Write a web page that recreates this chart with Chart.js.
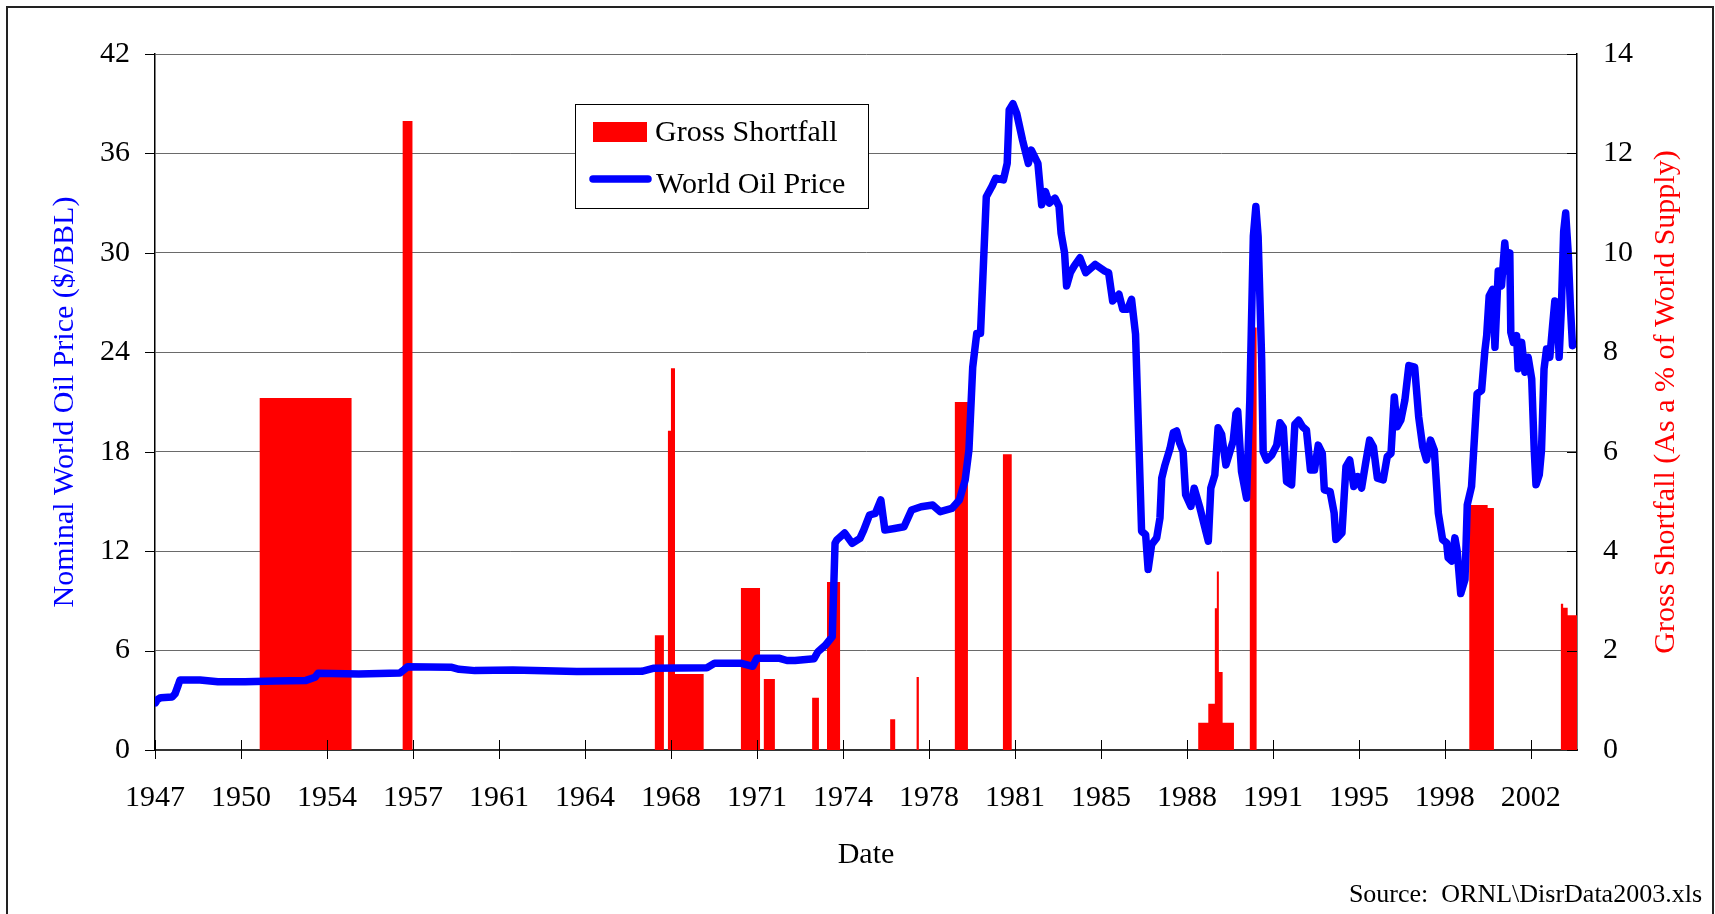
<!DOCTYPE html>
<html>
<head>
<meta charset="utf-8">
<title>World Oil Price and Gross Shortfall</title>
<script src="https://cdn.jsdelivr.net/npm/chart.js@4.4.1/dist/chart.umd.min.js"></script>
<style>
  html, body { margin: 0; padding: 0; background: #ffffff; }
  canvas { display: block; }
</style>
</head>
<body>
<canvas id="chart" width="1715" height="914"></canvas>
<script>
// Date axis labels, one every 41 months starting mid-1947
const xTickLabels = ['1947', '1950', '1954', '1957', '1961', '1964', '1968', '1971', '1974',
                     '1978', '1981', '1985', '1988', '1991', '1995', '1998', '2002'];

// World oil price, nominal $/BBL (decimal year, price)
const priceDates = [
  1947.52, 1947.60, 1947.73, 1948.18, 1948.30, 1948.42, 1948.49, 1949.29, 1950.00, 1951.08,
  1952.27, 1953.50, 1953.86, 1953.98, 1955.60, 1957.23, 1957.40, 1957.54, 1959.26, 1959.58,
  1960.21, 1961.72, 1964.26, 1966.84, 1967.29, 1969.43, 1969.73, 1970.80, 1971.25, 1971.41,
  1972.32, 1972.61, 1972.93, 1973.68, 1973.84, 1974.14, 1974.41, 1974.52, 1974.59, 1974.90,
  1975.20, 1975.51, 1975.66, 1975.89, 1976.12, 1976.34, 1976.50, 1976.88, 1977.26, 1977.56,
  1977.94, 1978.40, 1978.70, 1979.16, 1979.46, 1979.69, 1979.84, 1979.99, 1980.15, 1980.30,
  1980.53, 1980.75, 1980.90, 1981.21, 1981.36, 1981.44, 1981.59, 1981.74, 1981.97, 1982.20,
  1982.32, 1982.58, 1982.73, 1982.88, 1983.03, 1983.26, 1983.42, 1983.50, 1983.64, 1983.72,
  1983.87, 1984.02, 1984.25, 1984.48, 1984.86, 1985.24, 1985.39, 1985.55, 1985.80, 1985.95,
  1986.15, 1986.30, 1986.46, 1986.70, 1986.86, 1986.96, 1987.10, 1987.30, 1987.43, 1987.50,
  1987.63, 1987.83, 1987.96, 1988.09, 1988.22, 1988.35, 1988.45, 1988.66, 1988.79, 1989.02,
  1989.35, 1989.45, 1989.61, 1989.74, 1989.88, 1990.05, 1990.21, 1990.34, 1990.45, 1990.52,
  1990.67, 1990.87, 1991.00, 1991.14, 1991.24, 1991.33, 1991.47, 1991.53, 1991.67, 1991.87,
  1992.07, 1992.20, 1992.33, 1992.46, 1992.66, 1992.79, 1992.94, 1993.10, 1993.25, 1993.41,
  1993.57, 1993.72, 1993.88, 1993.96, 1994.19, 1994.35, 1994.42, 1994.66, 1994.82, 1994.97,
  1995.13, 1995.29, 1995.44, 1995.60, 1995.76, 1995.91, 1996.07, 1996.30, 1996.46, 1996.61,
  1996.74, 1996.85, 1997.00, 1997.16, 1997.32, 1997.55, 1997.71, 1997.87, 1998.02, 1998.18,
  1998.33, 1998.49, 1998.66, 1998.82, 1998.88, 1999.02, 1999.15, 1999.24, 1999.38, 1999.55,
  1999.64, 1999.81, 1999.94, 2000.03, 2000.21, 2000.34, 2000.41, 2000.51, 2000.65, 2000.74,
  2000.87, 2001.00, 2001.13, 2001.23, 2001.33, 2001.37, 2001.47, 2001.60, 2001.66, 2001.80,
  2001.93, 2002.06, 2002.20, 2002.30, 2002.37, 2002.50, 2002.59, 2002.69, 2002.79, 2002.92,
  2003.03, 2003.12, 2003.21, 2003.29, 2003.38, 2003.47, 2003.55, 2003.65, 2003.74, 2003.82
];
const priceValues = [
   2.85,  3.05,  3.16,  3.20,  3.40,  3.90,  4.22,  4.22,  4.12,  4.12,
   4.17,  4.20,  4.39,  4.63,  4.58,  4.65,  4.85,  5.03,  5.00,  4.87,
   4.79,  4.83,  4.73,  4.75,  4.93,  4.97,  5.23,  5.23,  5.05,  5.53,
   5.53,  5.40,  5.40,  5.50,  5.93,  6.33,  6.84, 12.47, 12.67, 13.10,
  12.47, 12.77, 13.27, 14.18, 14.28, 15.09, 13.27, 13.37, 13.47, 14.48,
  14.68, 14.78, 14.38, 14.58, 15.09, 16.29, 18.10, 23.10, 25.14, 25.14,
  33.39, 34.00, 34.50, 34.40, 35.40, 38.62, 39.00, 38.40, 36.80, 35.40,
  36.20, 35.40, 32.90, 33.70, 33.00, 33.30, 32.80, 31.20, 30.00, 28.00,
  28.80, 29.20, 29.70, 28.80, 29.30, 28.90, 28.80, 27.10, 27.50, 26.60,
  26.60, 27.20, 25.10, 13.20, 13.00, 10.90, 12.40, 12.80, 14.00, 16.40,
  17.20, 18.20, 19.15, 19.25, 18.50, 18.00, 15.40, 14.70, 15.80, 14.60,
  12.60, 15.80, 16.60, 19.45, 19.05, 17.20, 18.00, 18.65, 20.30, 20.45,
  16.80, 15.20, 21.10, 31.00, 32.80, 31.00, 23.60, 18.00, 17.50, 17.80,
  18.40, 19.75, 19.45, 16.20, 16.00, 19.65, 19.90, 19.50, 19.30, 16.90,
  16.90, 18.40, 17.90, 15.70, 15.60, 14.30, 12.70, 13.10, 17.10, 17.50,
  15.90, 16.50, 15.80, 17.30, 18.70, 18.30, 16.40, 16.30, 17.70, 17.90,
  21.30, 19.50, 19.90, 21.10, 23.20, 23.10, 20.10, 18.30, 17.50, 18.70,
  18.10, 14.30, 12.70, 12.50, 11.60, 11.40, 12.80, 12.00,  9.44, 10.30,
  14.80, 15.90, 19.20, 21.50, 21.70, 24.10, 25.00, 27.40, 27.80, 24.30,
  28.90, 28.00, 30.60, 28.90, 30.00, 25.20, 24.60, 25.00, 23.00, 24.60,
  22.80, 23.70, 22.40, 18.10, 16.00, 16.60, 18.10, 23.00, 24.20, 23.70,
  25.60, 27.10, 27.00, 23.70, 26.70, 31.30, 32.40, 30.00, 26.70, 24.40
];

// Supply disruptions: gross shortfall as % of world supply over each period
const shortfallStart = [1951.65, 1957.34, 1967.36, 1967.88, 1968.00, 1968.16, 1970.78, 1971.69,
                        1973.61, 1974.20, 1976.71, 1977.76, 1979.28, 1981.19, 1988.95, 1989.35,
                        1989.61, 1989.69, 1989.77, 1989.92, 1991.00, 1999.72, 2000.45, 2003.36,
                        2003.45, 2003.63];
const shortfallEnd   = [1955.31, 1957.73, 1967.72, 1968.00, 1968.16, 1969.30, 1971.54, 1972.13,
                        1973.88, 1974.72, 1976.91, 1977.85, 1979.80, 1981.54, 1989.35, 1989.61,
                        1989.69, 1989.77, 1989.92, 1990.37, 1991.27, 2000.45, 2000.70, 2003.45,
                        2003.63, 2004.00];
const shortfallPct   = [7.08, 12.65, 2.31, 6.42, 7.68, 1.53, 3.26, 1.43,
                        1.05, 3.38, 0.62, 1.47, 7.00, 5.95, 0.55, 0.93,
                        2.85, 3.59, 1.57, 0.55, 8.50, 4.93, 4.87, 2.94,
                        2.86, 2.71];

const X_MIN = 1947.5;
const X_MAX = 2004.0;
const TICK_STEP = 41 / 12;
const FONT = '"Liberation Serif", "Times New Roman", serif';

// Price points as {x, y}
const pricePoints = priceDates.map((d, i) => ({ x: d, y: priceValues[i] }));

// Step outline of the shortfall periods: each value holds until the next point
const shortfallSteps = [];
shortfallStart.forEach((s, i) => {
  shortfallSteps.push({ x: s, y: shortfallPct[i] });
  const next = shortfallStart[i + 1];
  if (next === undefined || next > shortfallEnd[i] + 1e-6) {
    shortfallSteps.push({ x: shortfallEnd[i], y: 0 });
  }
});

function strokeLine(ctx, x1, y1, x2, y2) {
  ctx.beginPath();
  ctx.moveTo(x1, y1);
  ctx.lineTo(x2, y2);
  ctx.stroke();
}

const decorations = {
  id: 'decorations',
  beforeDraw(chart) {
    const ctx = chart.ctx;
    ctx.save();
    ctx.fillStyle = '#ffffff';
    ctx.fillRect(0, 0, chart.width, chart.height);
    ctx.restore();
  },
  afterDraw(chart) {
    const { ctx, chartArea: a, scales } = chart;
    ctx.save();

    // tick marks: outward on the left, inward on the right, crossing on the date axis
    ctx.strokeStyle = '#000000';
    ctx.lineWidth = 1;
    scales.y.ticks.forEach(t => {
      const y = Math.round(scales.y.getPixelForValue(t.value)) + 0.5;
      strokeLine(ctx, a.left - 10, y, a.left, y);
    });
    scales.y2.ticks.forEach(t => {
      const y = Math.round(scales.y2.getPixelForValue(t.value)) + 0.5;
      strokeLine(ctx, a.right - 10, y, a.right, y);
    });
    scales.x.ticks.forEach(t => {
      const x = Math.round(scales.x.getPixelForValue(t.value)) + 0.5;
      strokeLine(ctx, x, a.bottom - 10, x, a.bottom + 9);
    });

    const midY = (a.top + a.bottom) / 2;

    // left axis title
    ctx.font = '30px ' + FONT;
    ctx.fillStyle = '#0000ff';
    ctx.textAlign = 'center';
    ctx.textBaseline = 'middle';
    ctx.save();
    ctx.translate(65, midY);
    ctx.rotate(-Math.PI / 2);
    ctx.fillText('Nominal World Oil Price ($/BBL)', 0, 0);
    ctx.restore();

    // right axis title
    ctx.fillStyle = '#ff0000';
    ctx.save();
    ctx.translate(1666, midY);
    ctx.rotate(-Math.PI / 2);
    ctx.fillText('Gross Shortfall (As a % of World Supply)', 0, 0);
    ctx.restore();

    // date axis title
    ctx.fillStyle = '#000000';
    ctx.textBaseline = 'alphabetic';
    ctx.fillText('Date', (a.left + a.right) / 2, 863);

    // source note
    ctx.font = '26px ' + FONT;
    ctx.textAlign = 'right';
    ctx.fillText('Source:  ORNL\\DisrData2003.xls', 1702, 902);

    // legend
    const ds = chart.data.datasets;
    const lx = a.left + 420, ly = a.top + 50, lw = 293, lh = 104;
    ctx.fillStyle = '#ffffff';
    ctx.fillRect(lx, ly, lw, lh);
    ctx.strokeStyle = '#000000';
    ctx.lineWidth = 1;
    ctx.strokeRect(lx + 0.5, ly + 0.5, lw, lh);
    const barSet = ds.find(d => d.id === 'shortfall');
    const lineSet = ds.find(d => d.id === 'price');
    ctx.fillStyle = barSet.backgroundColor;
    ctx.fillRect(lx + 18, ly + 18, 54, 20);
    ctx.strokeStyle = lineSet.borderColor;
    ctx.lineWidth = 7.5;
    ctx.lineCap = 'round';
    strokeLine(ctx, lx + 18, ly + 75, lx + 73, ly + 75);
    ctx.font = '30px ' + FONT;
    ctx.fillStyle = '#000000';
    ctx.textAlign = 'left';
    ctx.textBaseline = 'alphabetic';
    ctx.fillText(barSet.label, lx + 80, ly + 37);
    ctx.fillText(lineSet.label, lx + 81, ly + 89);

    // outer frame
    ctx.strokeStyle = '#222222';
    ctx.lineWidth = 2;
    ctx.strokeRect(7, 7, 1706, 930);

    ctx.restore();
  }
};

const tickFont = { family: FONT, size: 30 };

new Chart(document.getElementById('chart'), {
  type: 'line',
  data: {
    datasets: [
      {
        id: 'price',
        label: 'World Oil Price',
        data: pricePoints,
        yAxisID: 'y',
        borderColor: '#0000ff',
        borderWidth: 7.5,
        borderJoinStyle: 'round',
        borderCapStyle: 'round',
        pointRadius: 0,
        tension: 0,
        fill: false,
        order: 1
      },
      {
        id: 'shortfall',
        label: 'Gross Shortfall',
        data: shortfallSteps,
        yAxisID: 'y2',
        stepped: true,
        backgroundColor: '#ff0000',
        borderColor: 'rgba(0,0,0,0)',
        borderWidth: 0,
        pointRadius: 0,
        fill: 'origin',
        order: 2
      }
    ]
  },
  options: {
    responsive: false,
    animation: false,
    devicePixelRatio: 1,
    events: [],
    layout: { padding: { top: 54, left: 0, right: 0, bottom: 0 } },
    plugins: {
      legend: { display: false },
      tooltip: { enabled: false },
      title: { display: false }
    },
    scales: {
      x: {
        type: 'linear',
        position: 'bottom',
        min: X_MIN,
        max: X_MAX,
        afterBuildTicks(scale) {
          scale.ticks = xTickLabels.map((_, k) => ({ value: X_MIN + k * TICK_STEP }));
        },
        afterFit(scale) { scale.height = 164; },
        ticks: {
          autoSkip: false,
          maxRotation: 0,
          minRotation: 0,
          padding: 30,
          color: '#000000',
          font: tickFont,
          callback: (value, index) => xTickLabels[index]
        },
        grid: { display: false, drawTicks: false },
        border: { display: true, color: '#333333', width: 2 }
      },
      y: {
        position: 'left',
        min: 0,
        max: 42,
        afterFit(scale) { scale.width = 155; },
        ticks: { stepSize: 6, padding: 25, color: '#000000', font: tickFont },
        grid: { color: '#6a6a6a', lineWidth: 1, drawTicks: false },
        border: { display: true, color: '#000000', width: 1.5 }
      },
      y2: {
        position: 'right',
        min: 0,
        max: 14,
        afterFit(scale) { scale.width = 138; },
        ticks: { stepSize: 2, padding: 26, color: '#000000', font: tickFont },
        grid: { display: false, drawTicks: false },
        border: { display: true, color: '#000000', width: 1.5 }
      }
    }
  },
  plugins: [decorations]
});
</script>
</body>
</html>
